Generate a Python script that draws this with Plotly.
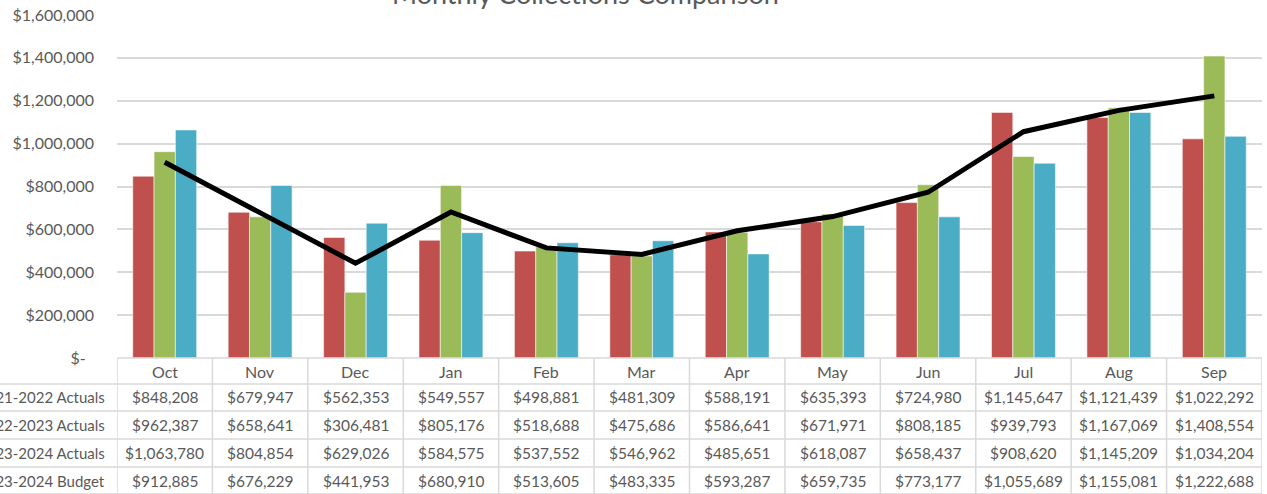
import plotly.graph_objects as go

months = ["Oct", "Nov", "Dec", "Jan", "Feb", "Mar", "Apr", "May", "Jun", "Jul", "Aug", "Sep"]
series_names = ["2021-2022 Actuals", "2022-2023 Actuals", "2023-2024 Actuals", "2023-2024 Budget"]
actuals_2122 = [848208, 679947, 562353, 549557, 498881, 481309, 588191, 635393, 724980, 1145647, 1121439, 1022292]
actuals_2223 = [962387, 658641, 306481, 805176, 518688, 475686, 586641, 671971, 808185, 939793, 1167069, 1408554]
actuals_2324 = [1063780, 804854, 629026, 584575, 537552, 546962, 485651, 618087, 658437, 908620, 1145209, 1034204]
budget_2324 = [912885, 676229, 441953, 680910, 513605, 483335, 593287, 659735, 773177, 1055689, 1155081, 1222688]
y_ticks = [0, 200000, 400000, 600000, 800000, 1000000, 1200000, 1400000, 1600000]

title = "Monthly Collections Comparison"
bar_colors = ["#C0504D", "#9BBB59", "#4BACC6"]
text_color = "#595959"
grid_color = "#D9D9D9"
FONT = "Lato, 'Open Sans', sans-serif"

W, H = 1267, 494
PLOT_LEFT, PLOT_RIGHT, PLOT_TOP, PLOT_BOTTOM = 117, 1262, 15, 358
ML, MT = PLOT_LEFT, PLOT_TOP
MR, MB = W - PLOT_RIGHT, H - PLOT_BOTTOM
plot_w = PLOT_RIGHT - PLOT_LEFT
plot_h = PLOT_BOTTOM - PLOT_TOP


def py2paper(py):
    return (PLOT_BOTTOM - py) / plot_h


def px2paper(px):
    return (px - PLOT_LEFT) / plot_w


def money(v):
    return "$" + format(v, ",") if v else "$-\u00a0\u00a0"


fig = go.Figure()
for name, vals, col in zip(series_names[:3], [actuals_2122, actuals_2223, actuals_2324], bar_colors):
    fig.add_trace(go.Bar(
        x=months, y=vals, name=name,
        marker=dict(color=col, line=dict(color="rgba(255,255,255,0.55)", width=1)),
    ))
fig.add_trace(go.Scatter(
    x=months, y=budget_2324, name=series_names[3], mode="lines",
    line=dict(color="black", width=5),
))

shapes = []
annotations = []

# Table grid (px)
row_edges = [358, 384, 411, 439, 467, 494]
shapes.append(dict(type="line", xref="paper", yref="paper", x0=0, x1=1,
                   y0=py2paper(row_edges[0]), y1=py2paper(row_edges[0]),
                   line=dict(color=grid_color, width=1.5)))
for e in row_edges[1:]:
    shapes.append(dict(type="line", xref="paper", yref="paper", x0=px2paper(0), x1=1,
                       y0=py2paper(e), y1=py2paper(e),
                       line=dict(color=grid_color, width=1.5)))
for i in range(len(months) + 1):
    shapes.append(dict(type="line", xref="x", yref="paper", x0=i - 0.5, x1=i - 0.5,
                       y0=py2paper(row_edges[0]), y1=py2paper(row_edges[-1]),
                       line=dict(color=grid_color, width=1.5)))

centers = [(row_edges[k] + row_edges[k + 1]) / 2 for k in range(len(row_edges) - 1)]
for i, m in enumerate(months):
    annotations.append(dict(x=m, xref="x", y=py2paper(centers[0]), yref="paper",
                            text=m, showarrow=False, xanchor="center", yanchor="middle",
                            font=dict(size=16, color=text_color, family=FONT)))
all_series = [actuals_2122, actuals_2223, actuals_2324, budget_2324]
for r, (name, vals) in enumerate(zip(series_names, all_series)):
    yc = py2paper(centers[r + 1])
    annotations.append(dict(x=px2paper(107), xref="paper", y=yc, yref="paper",
                            text=name, showarrow=False, xanchor="right", yanchor="middle",
                            font=dict(size=15, color=text_color, family=FONT)))
    for i, m in enumerate(months):
        annotations.append(dict(x=m, xref="x", y=yc, yref="paper",
                                text=money(vals[i]), showarrow=False,
                                xanchor="center", yanchor="middle",
                                font=dict(size=15.5, color=text_color, family=FONT)))

annotations.append(dict(x=px2paper(585.5), xref="paper", y=py2paper(-6), yref="paper",
                        text=title, showarrow=False, xanchor="center", yanchor="middle",
                        font=dict(size=27, color=text_color, family=FONT)))

fig.update_layout(
    width=W, height=H,
    margin=dict(l=ML, r=MR, t=MT, b=MB, autoexpand=False),
    paper_bgcolor="white", plot_bgcolor="white",
    barmode="group", bargap=0.33, bargroupgap=0,
    showlegend=False,
    font=dict(family=FONT, color=text_color, size=16),
    shapes=shapes, annotations=annotations,
    xaxis=dict(range=[-0.5, len(months) - 0.5], showticklabels=False, showgrid=False,
               zeroline=False, showline=False, ticks=""),
    yaxis=dict(range=[0, 1600000], tickvals=y_ticks, ticktext=[money(v) for v in y_ticks],
               showgrid=True, gridcolor=grid_color, gridwidth=1.5, zeroline=False,
               showline=False, ticks="", ticklabelstandoff=22,
               tickfont=dict(size=16, color=text_color, family=FONT)),
)

fig.write_html("out.html", config={"displayModeBar": False},
               post_script="document.body.style.margin='0';document.body.style.overflow='hidden';")
